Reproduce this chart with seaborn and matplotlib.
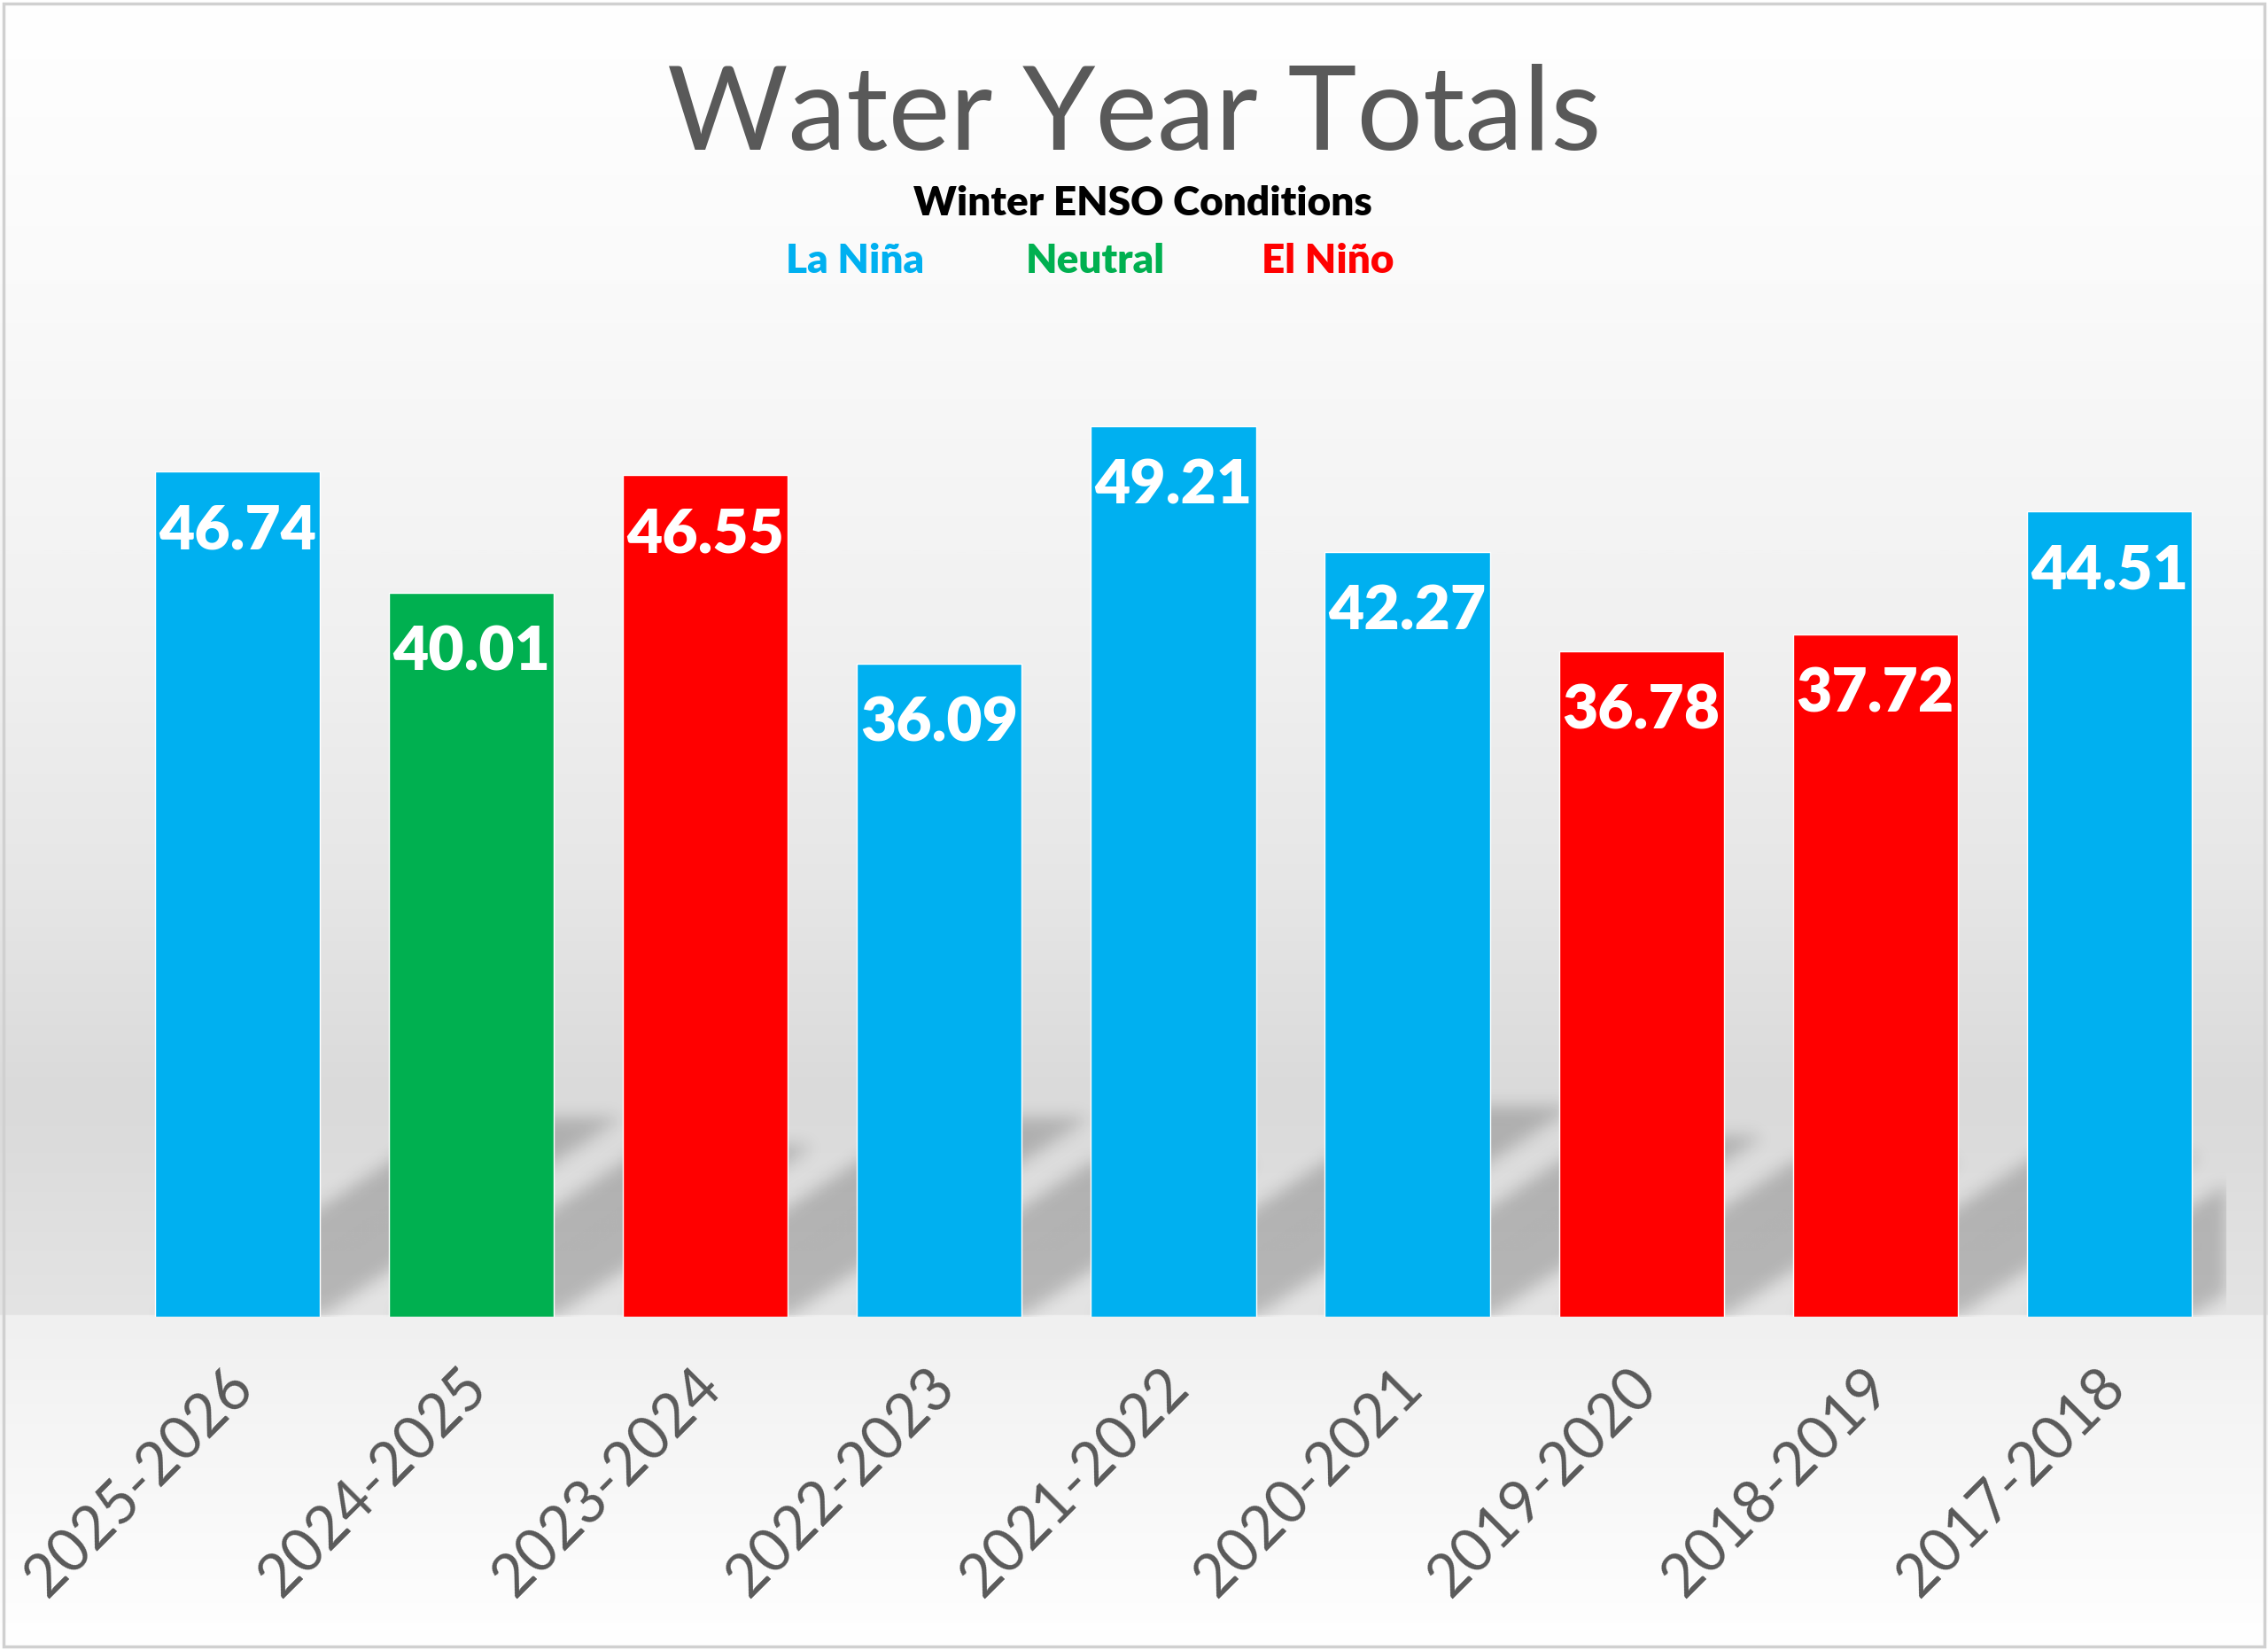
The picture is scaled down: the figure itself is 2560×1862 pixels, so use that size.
import numpy as np
import matplotlib
matplotlib.use("Agg")
import matplotlib.pyplot as plt
import matplotlib.transforms as mtransforms
import seaborn as sns
from matplotlib.path import Path
from matplotlib.patches import Rectangle
from matplotlib.colors import LinearSegmentedColormap

# water years, left to right as in the chart
years = ["2025-2026", "2024-2025", "2023-2024", "2022-2023", "2021-2022",
         "2020-2021", "2019-2020", "2018-2019", "2017-2018"]
totals = [46.74, 40.01, 46.55, 36.09, 49.21, 42.27, 36.78, 37.72, 44.51]
enso = ["La Niña", "Neutral", "El Niño", "La Niña", "La Niña",
        "La Niña", "El Niño", "El Niño", "La Niña"]
enso_colors = {"La Niña": "#00B0F0", "Neutral": "#00B050", "El Niño": "#FF0000"}

sns.set_theme(style="white")
plt.rcParams["font.family"] = ["Lato", "DejaVu Sans"]

fig = plt.figure(figsize=(25.6, 18.62), dpi=100)

# background: white -> grey band -> lighter "floor" under the bars
bg = fig.add_axes([0, 0, 1, 1], zorder=-5)
bg_cmap = LinearSegmentedColormap.from_list("bg", [
    (0.0, "#ffffff"), (0.17, "#fafafa"), (0.38, "#f1f1f1"), (0.54, "#e6e6e6"),
    (0.665, "#dadada"), (0.70, "#dcdcdc"), (0.797, "#e4e4e4"),
    (0.799, "#f0f0f0"), (1.0, "#ffffff")])
bg.imshow(np.linspace(0, 1, 1000).reshape(-1, 1), cmap=bg_cmap, aspect="auto",
          extent=[0, 1, 0, 1], vmin=0, vmax=1)
bg.set_axis_off()

ax = fig.add_axes([0.0531, 0.2019, 0.9285, 0.658])
ax.patch.set_alpha(0)

bar_w = 0.705
ymax = 60

# perspective shadows (upper right), blurred
nx, ny = 1300, 660
gx = np.linspace(-0.5, 8.5, nx)
gy = np.linspace(0, ymax, ny)
XX, YY = np.meshgrid(gx, gy)
pts = np.column_stack([XX.ravel(), YY.ravel()])
mask = np.zeros(XX.size)
for i, v in enumerate(totals):
    h = 0.235 * v
    dx = 0.0276 * v
    x0, x1 = i - bar_w / 2, i + bar_w / 2
    poly = Path([(x0, 0), (x1, 0), (x1 + dx, h), (x0 + dx, h), (x0, 0)])
    mask = np.maximum(mask, poly.contains_points(pts).astype(float))
mask = mask.reshape(ny, nx)
k = np.exp(-0.5 * (np.arange(-15, 16) / 5.0) ** 2)
k /= k.sum()
mask = np.apply_along_axis(lambda r: np.convolve(r, k, mode="same"), 1, mask)
mask = np.apply_along_axis(lambda c: np.convolve(c, k, mode="same"), 0, mask)
shadow = np.zeros((ny, nx, 4))
shadow[..., 3] = mask * 0.2
ax.imshow(shadow, origin="lower", extent=[-0.5, 8.5, 0, ymax], aspect="auto",
          zorder=0.5, interpolation="bilinear")

sns.barplot(x=years, y=totals, hue=enso, palette=enso_colors, dodge=False,
            legend=False, width=bar_w, saturation=1, ax=ax, zorder=2)

for i, v in enumerate(totals):
    ax.annotate(f"{v:.2f}", (i, v), xytext=(0, -49), textcoords="offset points",
                ha="center", va="center", color="white", fontsize=50,
                fontweight="heavy", zorder=3)

ax.set_xlim(-0.5, 8.5)
ax.set_ylim(0, ymax)
ax.set_yticks([])
ax.set_xlabel("")
ax.set_ylabel("")
sns.despine(ax=ax, left=True, bottom=True)
ax.tick_params(axis="x", length=0, pad=50, labelsize=48, labelcolor="#595959")
ax.set_xticks(range(len(years)))
ax.set_xticklabels(years, rotation=45, ha="right", rotation_mode="anchor", va="center")
shift = mtransforms.ScaledTranslation(8 / 100, 0, fig.dpi_scale_trans)
for lab in ax.get_xticklabels():
    lab.set_transform(lab.get_transform() + shift)

fig.text(0.5, 0.929, "Water Year Totals", ha="center", va="center",
         fontsize=95, color="#595959")
fig.text(0.504, 0.8765, "Winter ENSO Conditions", ha="center", va="center",
         fontsize=33, fontweight="heavy", color="black")
for name, xpos in zip(["La Niña", "Neutral", "El Niño"], [0.377, 0.483, 0.5855]):
    fig.text(xpos, 0.842, name, ha="center", va="center", fontsize=33,
             fontweight="heavy", color=enso_colors[name])

fig.add_artist(Rectangle((0.0015, 0.002), 0.997, 0.996, transform=fig.transFigure,
                         fill=False, ec="#d0d0d0", lw=2.5))

fig.savefig("out.png", dpi=100)
